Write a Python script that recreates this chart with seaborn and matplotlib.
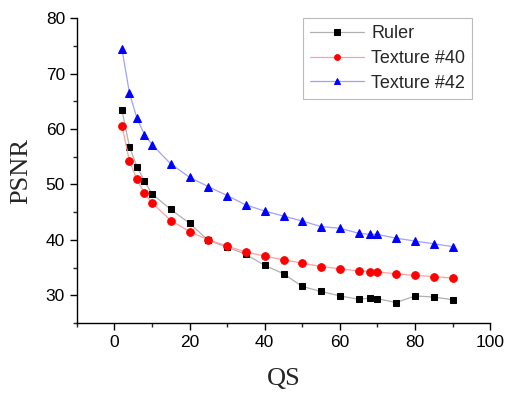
import matplotlib
matplotlib.use("Agg")
import matplotlib.pyplot as plt
from matplotlib.ticker import MultipleLocator
import seaborn as sns
import pandas as pd

# valeurs
qs = [2, 4, 6, 8, 10, 15, 20, 25, 30, 35, 40, 45, 50, 55, 60, 65, 68, 70, 75, 80, 85, 90]
psnr_ruler = [63.4, 56.8, 53.2, 50.6, 48.3, 45.5, 43.0, 39.9, 38.7, 37.4, 35.4, 33.9,
              31.6, 30.7, 29.9, 29.3, 29.5, 29.4, 28.7, 29.9, 29.7, 29.2]
psnr_tex40 = [60.6, 54.2, 50.9, 48.4, 46.7, 43.5, 41.5, 40.0, 38.9, 37.8, 37.1, 36.4,
              35.8, 35.2, 34.8, 34.4, 34.3, 34.2, 33.9, 33.6, 33.4, 33.1]
psnr_tex42 = [74.4, 66.5, 61.9, 59.0, 57.2, 53.7, 51.3, 49.6, 48.0, 46.3, 45.2, 44.3,
              43.4, 42.4, 42.1, 41.2, 41.0, 41.0, 40.3, 39.8, 39.3, 38.8]

series = [
    ("Ruler", psnr_ruler, "s", 5.0, "black", "#b0b0b0"),
    ("Texture #40", psnr_tex40, "o", 5.5, "red", "#ffa0a0"),
    ("Texture #42", psnr_tex42, "^", 6.0, "blue", "#a0a0ff"),
]

sns.set_style("ticks")
plt.rcParams["font.family"] = ["Liberation Sans", "DejaVu Sans"]

fig = plt.figure(figsize=(5.09, 3.94), dpi=100)
ax = fig.add_axes([0.151, 0.180, 0.812, 0.774])

for nom, valeurs, marqueur, taille, c_point, c_ligne in series:
    df = pd.DataFrame({"QS": qs, "PSNR": valeurs})
    sns.lineplot(data=df, x="QS", y="PSNR", ax=ax, color=c_ligne, linewidth=0.9,
                 marker=marqueur, markersize=taille,
                 markerfacecolor=c_point, markeredgecolor=c_point, label=nom)

ax.set_xlim(-10, 100)
ax.set_ylim(25, 80)
ax.xaxis.set_major_locator(MultipleLocator(20))
ax.xaxis.set_minor_locator(MultipleLocator(10))
ax.yaxis.set_major_locator(MultipleLocator(10))
ax.yaxis.set_minor_locator(MultipleLocator(5))
ax.tick_params(which="major", length=5, width=1, labelsize=12.5, colors="black")
ax.tick_params(which="minor", length=3, width=1)
for s in ["top", "right"]:
    ax.spines[s].set_visible(False)
for s in ["left", "bottom"]:
    ax.spines[s].set_color("black")
    ax.spines[s].set_linewidth(1)

ax.set_xlabel("QS", fontsize=19, family="Liberation Serif", labelpad=13)
ax.set_ylabel("PSNR", fontsize=19, family="Liberation Serif", labelpad=10)

leg = ax.legend(loc="upper right", bbox_to_anchor=(0.957, 1.0), fontsize=13,
                frameon=True, fancybox=False, edgecolor="#bbbbbb", framealpha=1,
                handlelength=3.0, handletextpad=0.4, borderpad=0.4, labelspacing=0.42,
                borderaxespad=0, markerscale=0.75)
leg.get_frame().set_linewidth(0.8)

fig.savefig("out.png", dpi=100)
